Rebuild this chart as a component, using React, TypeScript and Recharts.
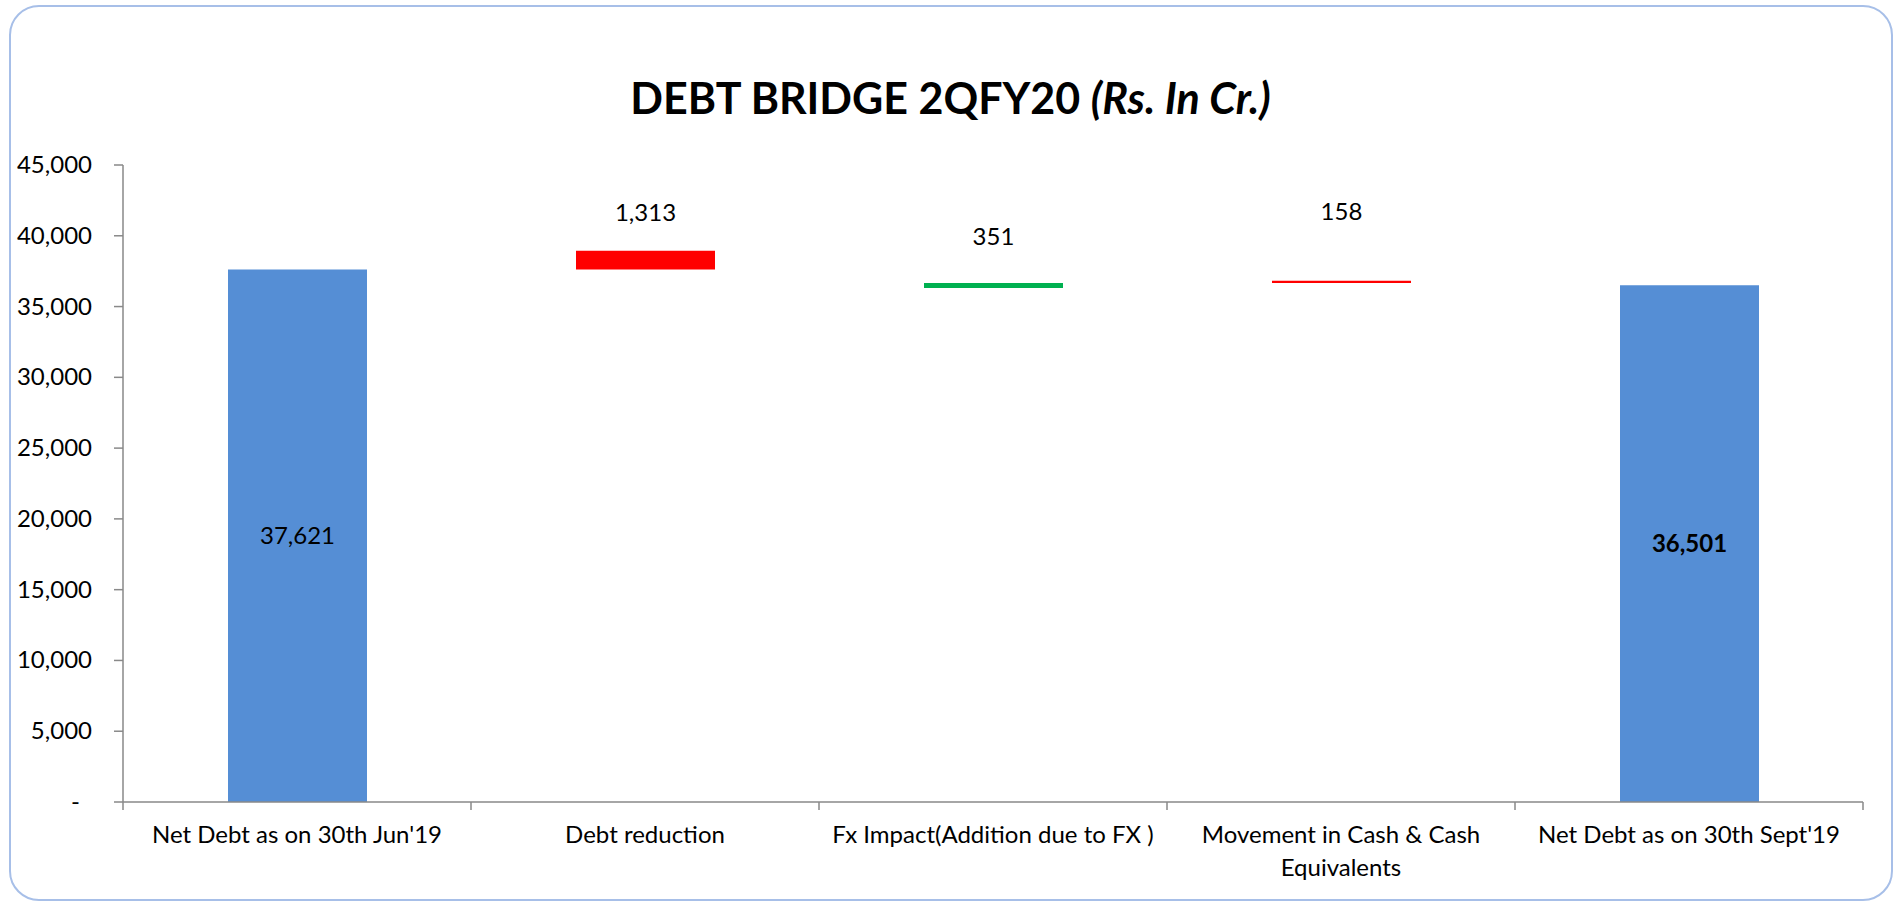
import React from "react";
import { BarChart, Bar, Cell, XAxis, YAxis, LabelList } from "recharts";

// categories and values (Rs. in Cr.)
const categories = [
	"Net Debt as on 30th Jun'19",
	"Debt reduction",
	"Fx Impact(Addition due to FX )",
	"Movement in Cash & Cash Equivalents",
	"Net Debt as on 30th Sept'19"
];
const amounts = [37621, 1313, 351, 158, 36501];
// invisible part of each stacked bar (where the floating piece starts)
const floors = [0, 37621, 36308, 36659, 0];
const barColors = ["#558ED5", "#FF0000", "#00B050", "#FF0000", "#558ED5"];
const yTicks = [0, 5000, 10000, 15000, 20000, 25000, 30000, 35000, 40000, 45000];

const rows = categories.map((name, i) => ({ name, floor: floors[i], amount: amounts[i] }));

const FONT = "Lato, 'Open Sans', sans-serif";
const AXIS_GREY = "#898989";
// how far above the floating bars their labels sit
const labelLift = [0, 38, 46, 69, 0];

// greedy word wrap by character count
const wrap = (s: string, max: number) => {
	const lines: string[] = [];
	let cur = "";
	s.split(" ").forEach((w) => {
		const next = cur ? cur + " " + w : w;
		if (next.length > max && cur) {
			lines.push(cur);
			cur = w;
		} else {
			cur = next;
		}
	});
	if (cur) lines.push(cur);
	return lines;
};

const YTick = (props: any) => {
	const { x, y, payload } = props;
	const v = payload.value as number;
	return (
		<text x={v === 0 ? x - 12 : x} y={y} dy={8} textAnchor="end" fontSize={24} fontFamily={FONT} fill="#000">
			{v === 0 ? "-" : v.toLocaleString("en-US")}
		</text>
	);
};

// category label plus tick marks on the band edges (Excel style)
const XTick = (props: any) => {
	const { x, y, payload, index, visibleTicksCount } = props;
	const half = payload.offset || 0;
	const last = index === visibleTicksCount - 1;
	const lines = wrap(String(payload.value), 30);
	return (
		<g>
			<line x1={x - half} x2={x - half} y1={y} y2={y + 8} stroke={AXIS_GREY} strokeWidth={1.5} />
			{last && <line x1={x + half} x2={x + half} y1={y} y2={y + 8} stroke={AXIS_GREY} strokeWidth={1.5} />}
			<text x={x} y={y + 41} textAnchor="middle" fontSize={24} fontFamily={FONT} fill="#000">
				{lines.map((l, i) => (
					<tspan key={i} x={x} dy={i === 0 ? 0 : 33}>
						{l}
					</tspan>
				))}
			</text>
		</g>
	);
};

const BarLabel = (props: any) => {
	const { x, y, width, height, value, index } = props;
	const cx = x + width / 2;
	if (index === 0 || index === 4) {
		return (
			<text
				x={cx}
				y={y + height / 2}
				dy={8}
				textAnchor="middle"
				fontSize={24}
				fontWeight={index === 4 ? 700 : 400}
				fontFamily={FONT}
				fill="#000"
			>
				{Number(value).toLocaleString("en-US")}
			</text>
		);
	}
	return (
		<text x={cx} y={y - labelLift[index]} dy={8} textAnchor="middle" fontSize={24} fontFamily={FONT} fill="#000">
			{Number(value).toLocaleString("en-US")}
		</text>
	);
};

export default function App() {
	return (
		<div style={{ position: "absolute", left: 0, top: 0, width: 1901, height: 901, background: "#fff", overflow: "hidden" }}>
			<div
				style={{
					position: "absolute",
					left: 9,
					top: 5,
					width: 1880,
					height: 892,
					border: "2px solid #A7BFE8",
					borderRadius: 30
				}}
			/>
			<div
				style={{
					position: "absolute",
					left: 0,
					top: 76,
					width: 1901,
					textAlign: "center",
					fontFamily: FONT,
					fontSize: 43,
					lineHeight: "43px",
					fontWeight: 700,
					color: "#000"
				}}
			>
				DEBT BRIDGE 2QFY20 <i>(Rs. In Cr.)</i>
			</div>
			<div style={{ position: "absolute", left: 0, top: 0 }}>
				<BarChart
					width={1901}
					height={901}
					data={rows}
					margin={{ top: 165, right: 38, bottom: 39, left: 13 }}
					barSize={139}
				>
					<XAxis
						dataKey="name"
						height={60}
						interval={0}
						axisLine={{ stroke: AXIS_GREY, strokeWidth: 1.5 }}
						tickLine={false}
						tickSize={0}
						tickMargin={0}
						tick={<XTick />}
					/>
					<YAxis
						width={110}
						domain={[0, 45000]}
						ticks={yTicks}
						interval={0}
						axisLine={{ stroke: AXIS_GREY, strokeWidth: 1.5 }}
						tickLine={{ stroke: AXIS_GREY, strokeWidth: 1.5 }}
						tickSize={9}
						tickMargin={22}
						tick={<YTick />}
					/>
					<Bar dataKey="floor" stackId="w" fill="transparent" isAnimationActive={false} />
					<Bar dataKey="amount" stackId="w" isAnimationActive={false}>
						{rows.map((r, i) => (
							<Cell key={r.name} fill={barColors[i]} />
						))}
						<LabelList dataKey="amount" content={<BarLabel />} />
					</Bar>
				</BarChart>
			</div>
		</div>
	);
}
